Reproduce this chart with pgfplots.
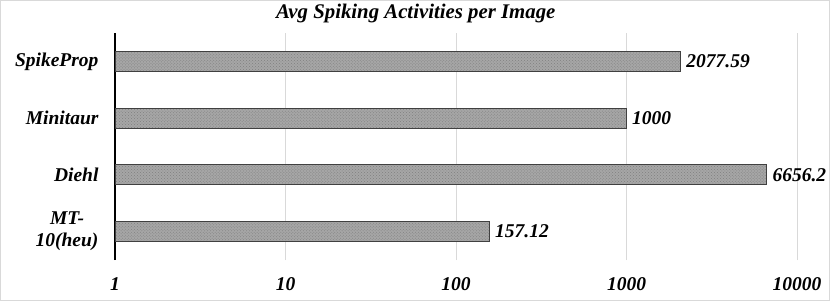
\documentclass[border=0pt]{standalone}
\usepackage{fontspec}
\setmainfont{Liberation Serif}
\usepackage{pgfplots}
\pgfplotsset{compat=1.18}
\usetikzlibrary{patterns}
\begin{document}
\begin{tikzpicture}[x=1bp,y=1bp]
\useasboundingbox (0,0) rectangle (830,301);
\draw[black!15, line width=1bp] (0.5,0.5) rectangle (829.5,300.5);
\begin{axis}[
  at={(115bp,41bp)}, anchor=south west,
  scale only axis, width=682bp, height=227bp,
  xmode=log, xmin=1, xmax=10000,
  ymin=-0.5, ymax=3.5,
  xbar, bar width=20bp,
  axis line style={draw=none},
  xtick={1,10,100,1000,10000},
  xticklabels={1,10,100,1000,10000},
  ytick={0,1,2,3},
  yticklabels={{MT-\\10(heu)},Diehl,Minitaur,SpikeProp},
  yticklabel style={align=center, font=\fontsize{19.5bp}{22bp}\selectfont\bfseries\itshape, xshift=-13bp},
  xticklabel style={font=\fontsize{19.5bp}{22bp}\selectfont\bfseries\itshape, yshift=-14bp},
  major tick length=0pt,
  minor tick length=0pt,
  xmajorgrids, grid style={black!15, line width=1bp},
  extra x ticks={1}, extra x tick labels={},
  extra x tick style={grid style={black, line width=1.2bp}},
  point meta=explicit symbolic,
  nodes near coords,
  nodes near coords style={font=\fontsize{19.5bp}{22bp}\selectfont\bfseries\itshape, anchor=west, xshift=2bp},
  title={\fontsize{20.8bp}{23bp}\selectfont\bfseries\itshape Avg Spiking Activities per Image},
  title style={at={(0.441,1)}, anchor=south, yshift=1bp},
  clip=false,
]
\addplot[draw=black!75, line width=0.8bp, fill=black!35,
  postaction={pattern=crosshatch dots, pattern color=black!50}]
  coordinates {(157.12,0) [157.12] (6656.2,1) [6656.2] (1000,2) [1000] (2077.59,3) [2077.59]};
\end{axis}
\end{tikzpicture}
\end{document}
